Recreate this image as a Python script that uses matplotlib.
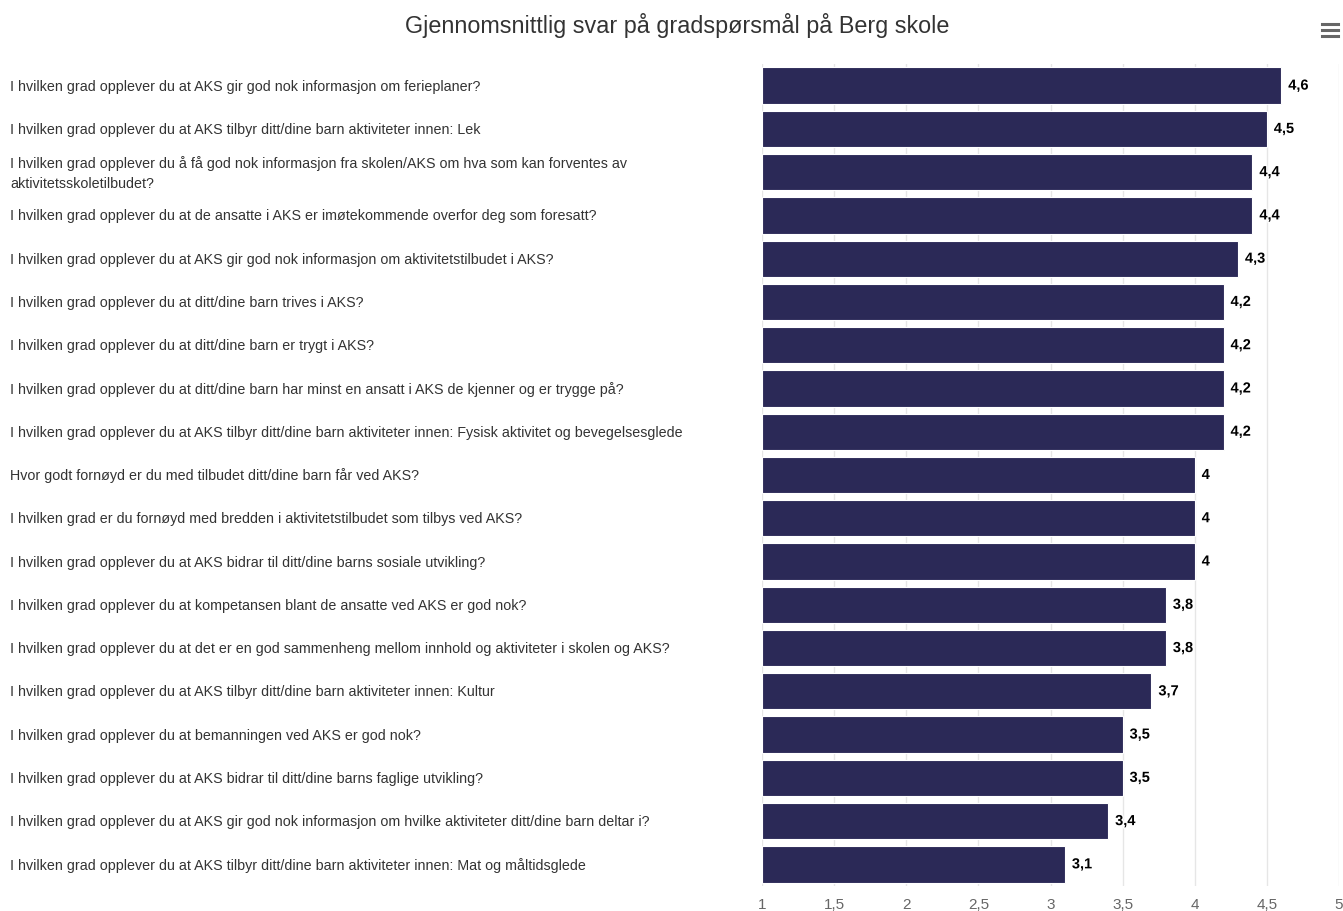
import matplotlib
matplotlib.use("Agg")
import matplotlib.pyplot as plt
import matplotlib.patheffects as pe
from matplotlib.transforms import blended_transform_factory
from matplotlib.lines import Line2D

plt.rcParams['font.family'] = ['Liberation Sans', 'DejaVu Sans']

TITLE = "Gjennomsnittlig svar på gradspørsmål på Berg skole"

questions = [
    "I hvilken grad opplever du at AKS gir god nok informasjon om ferieplaner?",
    "I hvilken grad opplever du at AKS tilbyr ditt/dine barn aktiviteter innen: Lek",
    "I hvilken grad opplever du å få god nok informasjon fra skolen/AKS om hva som kan forventes av\naktivitetsskoletilbudet?",
    "I hvilken grad opplever du at de ansatte i AKS er imøtekommende overfor deg som foresatt?",
    "I hvilken grad opplever du at AKS gir god nok informasjon om aktivitetstilbudet i AKS?",
    "I hvilken grad opplever du at ditt/dine barn trives i AKS?",
    "I hvilken grad opplever du at ditt/dine barn er trygt i AKS?",
    "I hvilken grad opplever du at ditt/dine barn har minst en ansatt i AKS de kjenner og er trygge på?",
    "I hvilken grad opplever du at AKS tilbyr ditt/dine barn aktiviteter innen: Fysisk aktivitet og bevegelsesglede",
    "Hvor godt fornøyd er du med tilbudet ditt/dine barn får ved AKS?",
    "I hvilken grad er du fornøyd med bredden i aktivitetstilbudet som tilbys ved AKS?",
    "I hvilken grad opplever du at AKS bidrar til ditt/dine barns sosiale utvikling?",
    "I hvilken grad opplever du at kompetansen blant de ansatte ved AKS er god nok?",
    "I hvilken grad opplever du at det er en god sammenheng mellom innhold og aktiviteter i skolen og AKS?",
    "I hvilken grad opplever du at AKS tilbyr ditt/dine barn aktiviteter innen: Kultur",
    "I hvilken grad opplever du at bemanningen ved AKS er god nok?",
    "I hvilken grad opplever du at AKS bidrar til ditt/dine barns faglige utvikling?",
    "I hvilken grad opplever du at AKS gir god nok informasjon om hvilke aktiviteter ditt/dine barn deltar i?",
    "I hvilken grad opplever du at AKS tilbyr ditt/dine barn aktiviteter innen: Mat og måltidsglede",
]
scores = [4.6, 4.5, 4.4, 4.4, 4.3, 4.2, 4.2, 4.2, 4.2, 4.0, 4.0, 4.0,
          3.8, 3.8, 3.7, 3.5, 3.5, 3.4, 3.1]
xticks = [1, 1.5, 2, 2.5, 3, 3.5, 4, 4.5, 5]

BAR_COLOR = "#2b2957"


def fmt(v):
    s = ("%g" % v)
    return s.replace(".", ",")


fig = plt.figure(figsize=(13.43, 9.12), dpi=100)
ax = fig.add_axes([762 / 1343, 1 - 887 / 912, 577 / 1343, (887 - 65) / 912])

y = list(range(len(questions)))
ax.barh(y, [s - 1 for s in scores], left=1, height=0.84, color=BAR_COLOR,
        edgecolor="#ffffff", linewidth=0.8, zorder=3)

ax.set_xlim(1, 5)
ax.set_ylim(len(questions) - 0.5, -0.5)
ax.set_xticks(xticks)
ax.set_xticklabels([fmt(t) for t in xticks], color="#666666", fontsize=11)
ax.set_yticks([])
ax.tick_params(axis="x", length=0, pad=8)
ax.grid(axis="x", color="#e6e6e6", linewidth=1, zorder=0)
for sp in ax.spines.values():
    sp.set_visible(False)

# value labels
for i, s in enumerate(scores):
    ax.annotate(fmt(s), (s, i), xytext=(5, 0), textcoords="offset points",
                va="center", ha="left", fontsize=10.5, fontweight="bold",
                color="#000000", zorder=4,
                path_effects=[pe.withStroke(linewidth=2, foreground="white")])

# category labels at the left edge of the figure
trans = blended_transform_factory(fig.transFigure, ax.transData)
for i, q in enumerate(questions):
    ax.text(10 / 1343, i, q, transform=trans, ha="left", va="center",
            fontsize=10.3, color="#333333", linespacing=1.55)

fig.text(0.504, 1 - 25 / 912, TITLE, ha="center", va="center",
         fontsize=16.8, color="#333333")

# menu icon
for yy in (25, 31, 37):
    fig.add_artist(Line2D([1322 / 1343, 1338 / 1343], [1 - yy / 912, 1 - yy / 912],
                          color="#666666", linewidth=2.2, transform=fig.transFigure))

fig.savefig("out.png", dpi=100)
